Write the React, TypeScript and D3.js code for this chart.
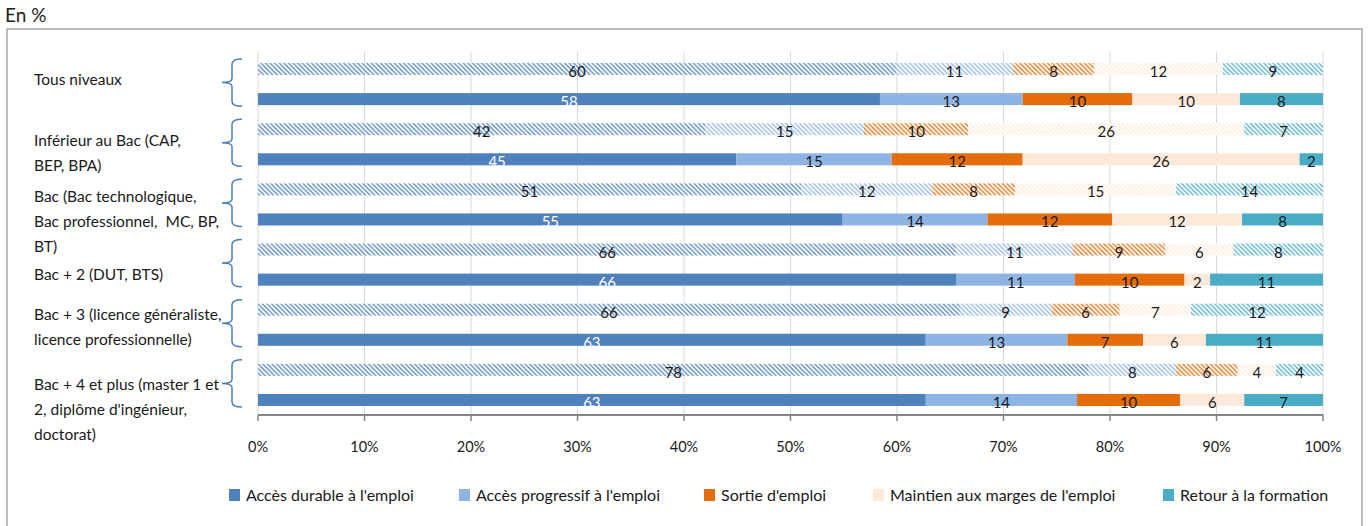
import * as d3 from "d3";

// two cohorts per level: hatched = older, solid = newer
const levels = [
  ["Tous niveaux"],
  ["Inférieur au Bac (CAP,", "BEP, BPA)"],
  ["Bac (Bac technologique,", "Bac professionnel,  MC, BP,", "BT)"],
  ["Bac + 2 (DUT, BTS)"],
  ["Bac + 3 (licence généraliste,", "licence professionnelle)"],
  ["Bac + 4 et plus (master 1 et", "2, diplôme d'ingénieur,", "doctorat)"],
];

const seriesNames = [
  "Accès durable à l'emploi",
  "Accès progressif à l'emploi",
  "Sortie d'emploi",
  "Maintien aux marges de l'emploi",
  "Retour à la formation",
];
const colors = ["#4f81bd", "#8eb4e3", "#e46c0a", "#fde9d9", "#4bacc6"];

// hatched bars
const oldDurable = [59.9, 42.0, 51.0, 65.6, 65.9, 78.0];
const oldProgressif = [11.0, 14.9, 12.3, 10.9, 8.6, 8.2];
const oldSortie = [7.6, 9.8, 7.8, 8.7, 6.4, 5.8];
const oldMarges = [12.1, 25.9, 15.1, 6.4, 6.7, 3.6];
const oldRetour = [9.4, 7.4, 13.8, 8.4, 12.4, 4.4];

// solid bars
const newDurable = [58.4, 44.9, 54.9, 65.6, 62.7, 62.7];
const newProgressif = [13.4, 14.6, 13.6, 11.1, 13.3, 14.2];
const newSortie = [10.3, 12.3, 11.7, 10.3, 7.1, 9.7];
const newMarges = [10.1, 26.0, 12.2, 2.4, 5.9, 6.0];
const newRetour = [7.8, 2.2, 7.6, 10.6, 11.0, 7.4];

const xTicks = [0, 10, 20, 30, 40, 50, 60, 70, 80, 90, 100];

const keys = ["durable", "progressif", "sortie", "marges", "retour"];
const oldSeries = [oldDurable, oldProgressif, oldSortie, oldMarges, oldRetour];
const newSeries = [newDurable, newProgressif, newSortie, newMarges, newRetour];

type Row = { id: string; hatched: boolean; [k: string]: any };

const rows: Row[] = [];
levels.forEach((_, i) => {
  const o: Row = { id: `${i}-o`, hatched: true };
  const n: Row = { id: `${i}-n`, hatched: false };
  keys.forEach((k, j) => {
    o[k] = oldSeries[j][i];
    n[k] = newSeries[j][i];
  });
  rows.push(o, n);
});

const font = "Lato, 'Open Sans', sans-serif";
// baseline of first label line, per level (labels are not quite centred on braces)
const labelBase = [85, 146, 202, 280, 320, 390];
const legendX = [229, 459, 704, 873, 1163];

export default function App() {
  const width = 1369;
  const height = 526;
  const x = d3.scaleLinear([0, 100], [258, 1323]);
  const y = d3
    .scaleBand<string>()
    .domain(rows.map((r) => r.id))
    .range([54, 415])
    .paddingInner(0.6)
    .paddingOuter(0.3);
  const stacked = d3.stack<Row>().keys(keys)(rows);
  const bh = y.bandwidth();

  return (
    <svg
      width={width}
      height={height}
      style={{ position: "absolute", left: 0, top: 0, display: "block" }}
      fontFamily={font}
    >
      <defs>
        {colors.map((c, i) => (
          <pattern
            key={i}
            id={`hatch${i}`}
            patternUnits="userSpaceOnUse"
            width={4.6}
            height={4.6}
          >
            <rect width={4.6} height={4.6} fill="white" />
            <path
              d="M0,0 L4.6,4.6 M-1,3.6 L1,5.6 M3.6,-1 L5.6,1"
              stroke={c}
              strokeWidth={1.2}
            />
          </pattern>
        ))}
      </defs>

      <text x={5} y={22} fontSize={19} fill="#222">
        En %
      </text>
      <rect
        x={7}
        y={29}
        width={1355}
        height={510}
        fill="none"
        stroke="#a6a6a6"
        strokeWidth={1.5}
      />

      {/* grid */}
      {xTicks.map((t) => (
        <line
          key={t}
          x1={x(t)}
          x2={x(t)}
          y1={52}
          y2={415}
          stroke="#d9d9d9"
          strokeWidth={1}
        />
      ))}

      {/* bars */}
      {stacked.map((s, j) => (
        <g key={s.key}>
          {s.map((d) => (
            <rect
              key={d.data.id}
              x={x(d[0])}
              y={y(d.data.id)!}
              width={x(d[1]) - x(d[0])}
              height={bh}
              fill={d.data.hatched ? `url(#hatch${j})` : colors[j]}
            />
          ))}
        </g>
      ))}

      {/* labels */}
      {stacked.map((s, j) => (
        <g key={s.key} fontSize={15} textAnchor="middle">
          {s.map((d) => (
            <text
              key={d.data.id}
              x={(x(d[0]) + x(d[1])) / 2}
              y={y(d.data.id)! + bh / 2 + 8}
              fill={j === 0 && !d.data.hatched ? "#ffffff" : "#1a1a1a"}
            >
              {Math.round(d[1] - d[0])}
            </text>
          ))}
        </g>
      ))}

      {/* x axis */}
      <line x1={x(0)} x2={x(100)} y1={415} y2={415} stroke="#868686" strokeWidth={2} />
      {xTicks.map((t) => (
        <g key={t}>
          <line x1={x(t)} x2={x(t)} y1={415} y2={421} stroke="#868686" strokeWidth={1.5} />
          <text x={x(t)} y={452} fontSize={14.5} textAnchor="middle" fill="#1a1a1a">
            {t}%
          </text>
        </g>
      ))}

      {/* category labels and braces */}
      {levels.map((lines, i) => {
        const top = y(`${i}-o`)! - 4;
        const bottom = y(`${i}-n`)! + bh + 1;
        const mid = (top + bottom) / 2;
        const bx = 232;
        const path = `M${bx + 10},${top} Q${bx},${top} ${bx},${top + 5} L${bx},${mid - 4} Q${bx},${mid} ${bx - 10},${mid} Q${bx},${mid} ${bx},${mid + 4} L${bx},${bottom - 5} Q${bx},${bottom} ${bx + 10},${bottom}`;
        return (
          <g key={i}>
            <path d={path} fill="none" stroke="#4a7ebb" strokeWidth={1.5} />
            {lines.map((l, k) => (
              <text
                key={k}
                x={34}
                y={labelBase[i] + k * 25}
                fontSize={15.5}
                fill="#1a1a1a"
                style={{ whiteSpace: "pre" }}
              >
                {l}
              </text>
            ))}
          </g>
        );
      })}

      {/* legend */}
      {seriesNames.map((name, i) => (
        <g key={name}>
          <rect x={legendX[i]} y={489} width={11} height={12} fill={colors[i]} />
          <text x={legendX[i] + 17} y={501} fontSize={16} fill="#1a1a1a">
            {name}
          </text>
        </g>
      ))}
    </svg>
  );
}
